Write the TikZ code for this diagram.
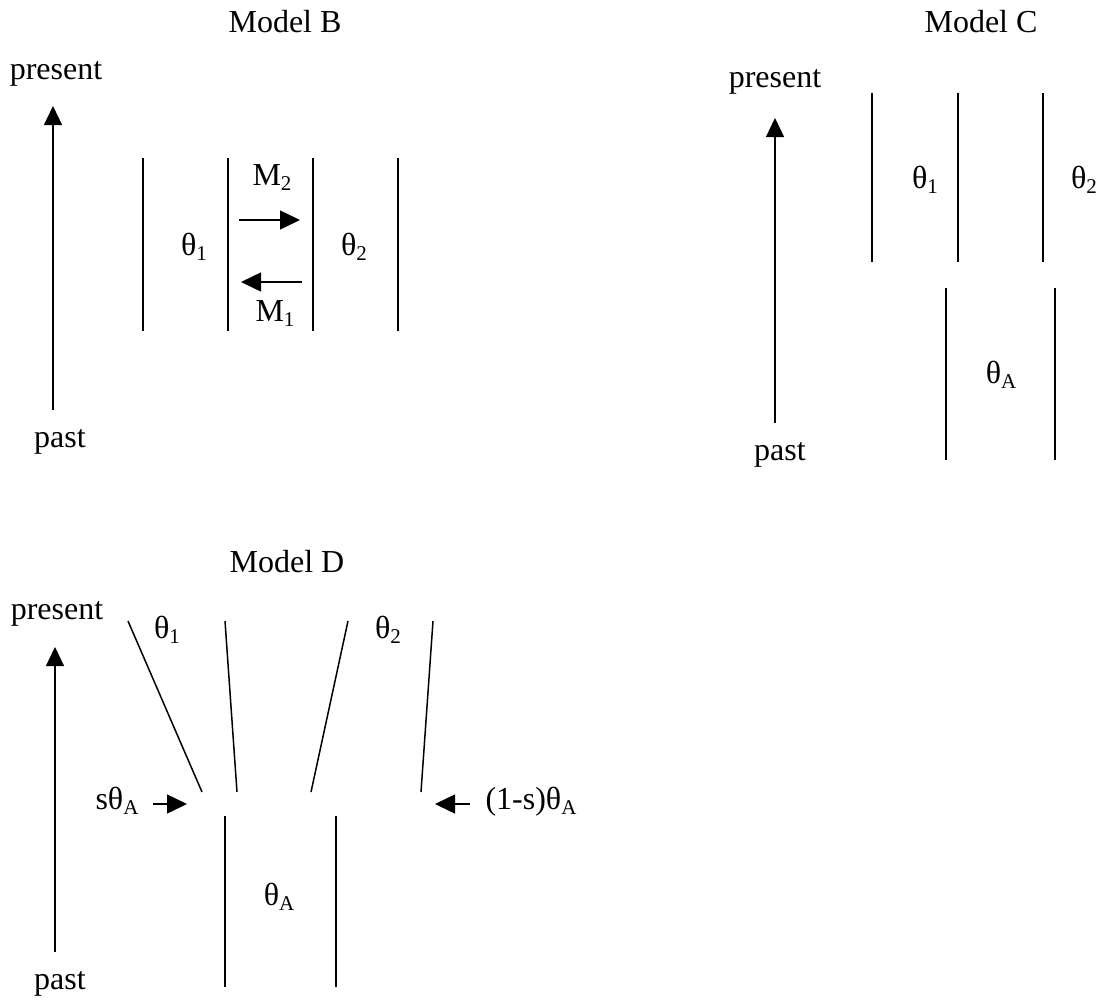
\documentclass[tikz,border=0pt]{standalone}
\usepackage{fontspec}
\setmainfont{Liberation Serif}
\usetikzlibrary{arrows.meta}
% lowered index in a smaller size
\newcommand{\sbs}[1]{\raisebox{-5pt}{\fontsize{21}{21}\selectfont #1}}
\begin{document}
\begin{tikzpicture}[x=1pt,y=-1pt,
  lbl/.style={anchor=base,inner sep=0pt,font=\fontsize{32}{38}\selectfont},
  wall/.style={line width=1.5pt},
  timeaxis/.style={line width=1.3pt,-{Triangle[length=19pt,width=18pt]}},
  flow/.style={line width=1.5pt,-{Triangle[length=20pt,width=19pt]}}]
\useasboundingbox (0,0) rectangle (1116,999);

% ---------------- Model B ----------------
\node[lbl] (tB) at (285,32) {Model B};
\node[lbl] (prB) at (56,79) {present};
\node[lbl] (paB) at (60,447) {past};
\coordinate (aB0) at (53,410);
\coordinate (aB1) at (53,106);
\draw[timeaxis] (aB0) -- (aB1);
\foreach \x [count=\i] in {143,228,313,398} {
  \coordinate (wB\i t) at (\x,158);
  \coordinate (wB\i b) at (\x,331);
  \draw[wall] (wB\i t) -- (wB\i b);
}
\node[lbl] (th1B) at (194,255) {θ\sbs{1}};
\node[lbl] (th2B) at (354,255) {θ\sbs{2}};
\node[lbl] (m2) at (272,185) {M\sbs{2}};
\node[lbl] (m1) at (275,321) {M\sbs{1}};
\coordinate (r0) at (239,220);
\coordinate (r1) at (300,220);
\coordinate (l0) at (302,282);
\coordinate (l1) at (241,282);
\draw[flow] (r0) -- (r1);
\draw[flow] (l0) -- (l1);

% ---------------- Model C ----------------
\node[lbl] (tC) at (981,32) {Model C};
\node[lbl] (prC) at (775,87) {present};
\node[lbl] (paC) at (780,460) {past};
\coordinate (aC0) at (775,423);
\coordinate (aC1) at (775,118);
\draw[timeaxis] (aC0) -- (aC1);
\foreach \x [count=\i] in {872,958,1043} {
  \coordinate (wC\i t) at (\x,93);
  \coordinate (wC\i b) at (\x,262);
  \draw[wall] (wC\i t) -- (wC\i b);
}
\foreach \x [count=\i] in {946,1055} {
  \coordinate (vC\i t) at (\x,288);
  \coordinate (vC\i b) at (\x,460);
  \draw[wall] (vC\i t) -- (vC\i b);
}
\node[lbl] (th1C) at (925,188) {θ\sbs{1}};
\node[lbl] (th2C) at (1084,188) {θ\sbs{2}};
\node[lbl] (thAC) at (1001,383) {θ\sbs{A}};

% ---------------- Model D ----------------
\node[lbl] (tD) at (287,572) {Model D};
\node[lbl] (prD) at (57,619) {present};
\node[lbl] (paD) at (60,989) {past};
\coordinate (aD0) at (55,952);
\coordinate (aD1) at (55,647);
\draw[timeaxis] (aD0) -- (aD1);
% splitting branches
\coordinate (d1t) at (128,621);  \coordinate (d1b) at (202,792);
\coordinate (d2t) at (225,621);  \coordinate (d2b) at (237,792);
\coordinate (d3t) at (348,621);  \coordinate (d3b) at (311,792);
\coordinate (d4t) at (433,621);  \coordinate (d4b) at (421,792);
\draw[wall] (d1t) -- (d1b);
\draw[wall] (d2t) -- (d2b);
\draw[wall] (d3t) -- (d3b);
\draw[wall] (d4t) -- (d4b);
% ancestral population
\coordinate (e1t) at (225,816);  \coordinate (e1b) at (225,987);
\coordinate (e2t) at (336,816);  \coordinate (e2b) at (336,987);
\draw[wall] (e1t) -- (e1b);
\draw[wall] (e2t) -- (e2b);
\node[lbl] (th1D) at (167,638) {θ\sbs{1}};
\node[lbl] (th2D) at (388,638) {θ\sbs{2}};
\node[lbl] (thAD) at (279,905) {θ\sbs{A}};
\node[lbl] (sA) at (117,809) {sθ\sbs{A}};
\node[lbl] (oneA) at (531,809) {(1-s)θ\sbs{A}};
\coordinate (p0) at (153,804);
\coordinate (p1) at (187,804);
\coordinate (q0) at (470,804);
\coordinate (q1) at (435,804);
\draw[flow] (p0) -- (p1);
\draw[flow] (q0) -- (q1);
\end{tikzpicture}
\end{document}
